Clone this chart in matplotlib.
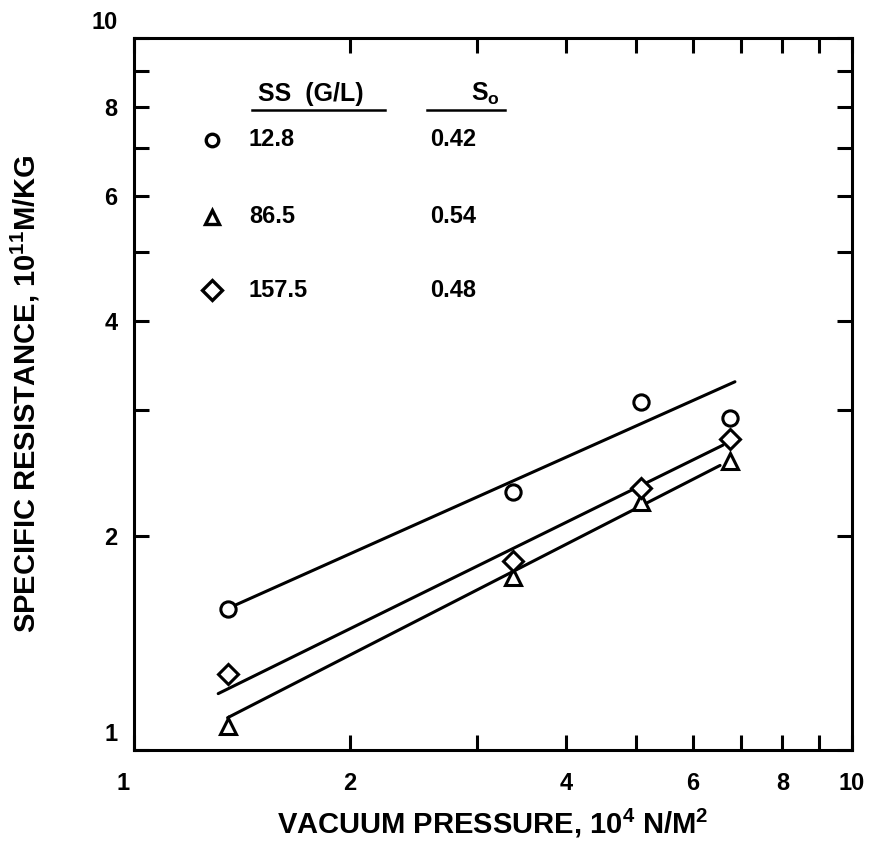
import matplotlib
matplotlib.use("Agg")
import matplotlib.pyplot as plt
from matplotlib.ticker import FixedLocator, NullFormatter, LogLocator
from matplotlib.transforms import ScaledTranslation

plt.rcParams['font.family'] = ['Liberation Sans', 'DejaVu Sans']
plt.rcParams['font.weight'] = 'bold'
plt.rcParams['mathtext.fontset'] = 'custom'
plt.rcParams['mathtext.bf'] = 'Liberation Sans:bold'
plt.rcParams['mathtext.rm'] = 'Liberation Sans:bold'

# ---- data ----
pressure = [1.35, 3.37, 5.08, 6.76]
res_12_8 = [1.58, 2.30, 3.08, 2.93]
res_86_5 = [1.08, 1.75, 2.23, 2.55]
res_157_5 = [1.28, 1.84, 2.33, 2.73]

fit_x_12_8 = [1.35, 6.87]
fit_y_12_8 = [1.58, 3.29]
fit_x_86_5 = [1.35, 6.55]
fit_y_86_5 = [1.11, 2.51]
fit_x_157_5 = [1.31, 6.61]
fit_y_157_5 = [1.20, 2.68]

ss_labels = ["12.8", "86.5", "157.5"]
so_labels = ["0.42", "0.54", "0.48"]
markers = ["o", "^", "D"]

xticks = [1, 2, 4, 6, 8, 10]
yticks = [1, 2, 4, 6, 8, 10]

# ---- figure ----
fig = plt.figure(figsize=(8.74, 8.61), dpi=100)
ax = fig.add_axes([134/874, 1-750/861, 718/874, 712/861])
ax.set_xscale('log')
ax.set_yscale('log')
ax.set_xlim(1, 10)
ax.set_ylim(1, 10)

lw = 2.2
for fx, fy in [(fit_x_12_8, fit_y_12_8), (fit_x_86_5, fit_y_86_5), (fit_x_157_5, fit_y_157_5)]:
    ax.plot(fx, fy, color='black', lw=lw, zorder=2, solid_capstyle='round')

mstyle = dict(ls='none', mfc='white', mec='black', mew=2.2, zorder=3)
ax.plot(pressure, res_12_8, marker='o', ms=11, **mstyle)
ax.plot(pressure, res_86_5, marker='^', ms=12, **mstyle)
ax.plot(pressure, res_157_5, marker='D', ms=10, **mstyle)

# ticks
ax.xaxis.set_major_locator(FixedLocator(xticks))
ax.yaxis.set_major_locator(FixedLocator(yticks))
ax.set_xticklabels([str(v) for v in xticks])
ax.set_yticklabels([str(v) for v in yticks])
ax.xaxis.set_minor_locator(LogLocator(base=10, subs=range(2, 10)))
ax.yaxis.set_minor_locator(LogLocator(base=10, subs=range(2, 10)))
ax.xaxis.set_minor_formatter(NullFormatter())
ax.yaxis.set_minor_formatter(NullFormatter())
ax.tick_params(which='both', direction='in', top=True, right=True,
               length=11, width=2.2, labelsize=17)
ax.tick_params(axis='x', which='both', pad=16)
ax.tick_params(axis='y', which='both', pad=12)
for lab in ax.get_xticklabels() + ax.get_yticklabels():
    lab.set_fontweight('bold')
for s in ax.spines.values():
    s.set_linewidth(2.2)

# offset corner labels like the original
yl = ax.get_yticklabels()
yl[0].set_transform(yl[0].get_transform() + ScaledTranslation(0, 0.18, fig.dpi_scale_trans))
yl[-1].set_transform(yl[-1].get_transform() + ScaledTranslation(0, 0.18, fig.dpi_scale_trans))
xl = ax.get_xticklabels()
xl[0].set_transform(xl[0].get_transform() + ScaledTranslation(-0.11, 0, fig.dpi_scale_trans))

ax.set_xlabel(r'VACUUM PRESSURE, 10$^{\mathbf{4}}$ N/M$^{\mathbf{2}}$', fontsize=21,
              fontweight='bold', labelpad=8)
ax.set_ylabel(r'SPECIFIC RESISTANCE, 10$^{\mathbf{11}}$M/KG', fontsize=21,
              fontweight='bold', labelpad=35)

# ---- in-plot key ----
T = ax.transAxes
ax.text(0.173, 0.912, 'SS  (G/L)', transform=T, fontsize=18, fontweight='bold', va='baseline')
ax.plot([0.164, 0.350], [0.899, 0.899], transform=T, color='black', lw=1.8, clip_on=False)
ax.text(0.470, 0.912, r'S$_{\mathbf{o}}$', transform=T, fontsize=18, fontweight='bold', va='baseline')
ax.plot([0.408, 0.517], [0.899, 0.899], transform=T, color='black', lw=1.8, clip_on=False)

row_y = [0.857, 0.749, 0.646]
row_ms = [9, 10, 10]
for y, m, ms, ss, so in zip(row_y, markers, row_ms, ss_labels, so_labels):
    ax.plot([0.109], [y], transform=T, marker=m, ms=ms, mfc='white', mec='black', mew=2.4,
            ls='none', clip_on=False)
    ax.text(0.160, y, ss, transform=T, fontsize=17, fontweight='bold', va='center')
    ax.text(0.412, y, so, transform=T, fontsize=17, fontweight='bold', va='center')

fig.savefig('out.png', dpi=100)
